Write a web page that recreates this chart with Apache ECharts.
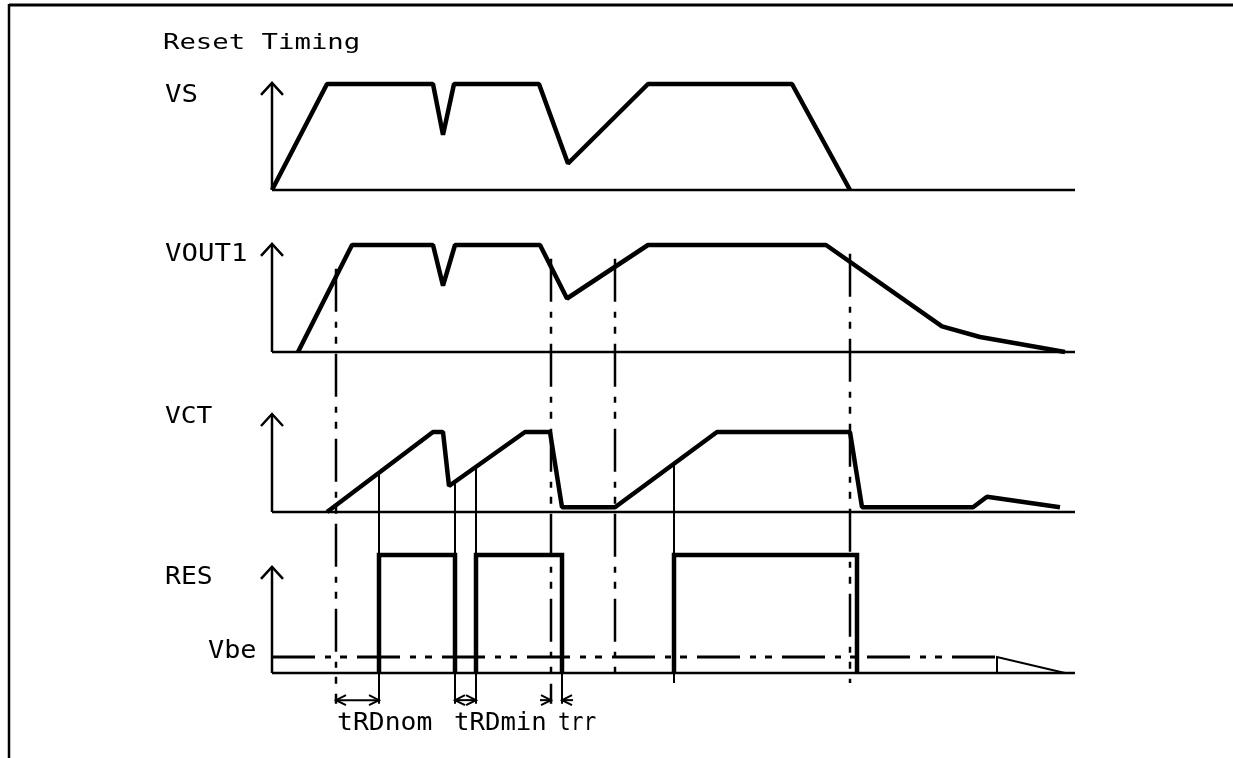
<!DOCTYPE html>
<html><head><meta charset="utf-8">
<script src="https://cdn.jsdelivr.net/npm/echarts@6/dist/echarts.min.js"></script>
<style>html,body{margin:0;padding:0;background:#fff}#c{width:1233px;height:758px}</style>
</head><body><div id="c"></div>
<script>
// ---- data: time in units (1 unit = 10 px on the time axis), levels in % of high level ----
const vsT    = [0, 5.5, 16.1, 17.1, 18.2, 26.7, 29.6, 37.6, 52.0, 57.8];
const vsV    = [0, 100, 100, 52, 100, 100, 25, 100, 100, 0];
const vout1T = [2.6, 8.0, 16.1, 17.1, 18.3, 26.8, 29.5, 37.6, 55.4, 67.0, 70.8, 74.5, 79.3];
const vout1V = [0, 100, 100, 62, 100, 100, 50, 100, 100, 24, 14, 8, 0];
const vctT   = [5.5, 16.1, 17.1, 17.7, 25.3, 27.8, 29.0, 34.3, 44.5, 57.8, 59.0, 70.1, 71.5, 78.8];
const vctV   = [0, 100, 100, 32.5, 100, 100, 6, 6, 100, 100, 6, 6, 19, 6];
const resRise = [10.7, 20.4, 40.2];
const resFall = [18.3, 29.0, 58.5];
const vbeLevel = 13.5;
const vbeEndT = [72.5, 79.3];
const timeEnd = 80.3;
const markerT = [6.4, 27.9, 34.3, 57.8];         // long dash-dot event markers
const dimNames = ['tRDnom', 'tRDmin', 'trr'];
const dimFrom  = [6.4, 18.3, 27.9];
const dimTo    = [10.7, 20.4, 29.0];
const signalNames = ['VS', 'VOUT1', 'VCT', 'RES'];

// ---- layout (pixel units on the y axis) ----
const L = {
  VS:    {base: 190, k: 1.06, top: 101},
  VOUT1: {base: 352, k: 1.07, top: 101},
  VCT:   {base: 512, k: 0.80, top: 122.5},
  RES:   {base: 673, k: 1.18, top: 90}
};
const Y = (p, v) => L[p].base - v * L[p].k;
const DASH = [43, 10, 6, 9, 7, 10];

function interp(ts, vs, t) {
  for (let i = 0; i < ts.length - 1; i++) {
    if (t >= ts[i] && t <= ts[i + 1]) {
      return vs[i] + (vs[i + 1] - vs[i]) * (t - ts[i]) / (ts[i + 1] - ts[i]);
    }
  }
  return 0;
}
function seg(points, width, dash, join) {
  return {
    type: 'line', data: points, showSymbol: false, symbol: 'none', silent: true,
    clip: false, animation: false, z: 2,
    lineStyle: {color: '#000', width: width, type: dash || 'solid', cap: 'butt', join: join || 'miter'}
  };
}
const series = [];
const heads = [];   // [t, y, dir]  dir 0 = up, 1 = right, -1 = left

// axes
signalNames.forEach(p => {
  series.push(seg([[0, L[p].base], [0, Y(p, L[p].top)]], 2.5));
  series.push(seg([[0, L[p].base], [timeEnd, L[p].base]], 2.5));
  heads.push([0, Y(p, L[p].top), 0]);
});

// signals
series.push(seg(vsT.map((t, i) => [t, Y('VS', vsV[i])]), 4.5, null, 'bevel'));
series.push(seg(vout1T.map((t, i) => [t, Y('VOUT1', vout1V[i])]), 4.5, null, 'bevel'));
series.push(seg(vctT.map((t, i) => [t, Y('VCT', vctV[i])]), 4.5, null, 'bevel'));
resRise.forEach((r, i) => {
  const f = resFall[i];
  series.push(seg([[r, Y('RES', 0)], [r, Y('RES', 100)], [f, Y('RES', 100)], [f, Y('RES', 0)]], 4.5));
});

// VCT threshold connectors to RES edges
const connT = [resRise[0], resFall[0], resRise[1], resRise[2]];
connT.forEach((t, i) => {
  const v = interp(vctT, vctV, t);
  series.push(seg([[t, Y('VCT', v)], [t, Y('VCT', i === 1 ? -14 : 0)]], 2));
  series.push(seg([[t, Y('VCT', 0)], [t, Y('RES', 100)]], 2, DASH));
});
// extensions below RES baseline
[resRise[0], resFall[0], resRise[1], resFall[1]].forEach(t => {
  series.push(seg([[t, Y('RES', 0)], [t, Y('RES', -26)]], 2));
});
series.push(seg([[resRise[2], Y('RES', 0)], [resRise[2], Y('RES', -8.5)]], 2));

// long dash-dot event markers
markerT.forEach((t, i) => {
  const v = interp(vout1T, vout1V, t);
  const end = i < 2 ? -26 : -8.5;
  series.push(seg([[t, Y('VOUT1', v) - 8], [t, Y('RES', end)]], 2.5, DASH));
});

// Vbe threshold
series.push(seg([[0, Y('RES', vbeLevel)], [vbeEndT[0], Y('RES', vbeLevel)]], 3, DASH));
series.push(seg([[vbeEndT[0], Y('RES', 0)], [vbeEndT[0], Y('RES', vbeLevel)], [vbeEndT[1], Y('RES', 0)]], 2));

// dimension arrows
const dimY = Y('RES', -23);
series.push(seg([[dimFrom[0], dimY], [dimTo[0], dimY]], 2));
heads.push([dimFrom[0], dimY, -1], [dimTo[0], dimY, 1]);
series.push(seg([[dimFrom[1], dimY], [dimTo[1], dimY]], 2));
heads.push([dimFrom[1], dimY, -1], [dimTo[1], dimY, 1]);
series.push(seg([[dimFrom[2] - 1.1, dimY], [dimFrom[2], dimY]], 2));
series.push(seg([[dimTo[2] + 1.1, dimY], [dimTo[2], dimY]], 2));
heads.push([dimFrom[2], dimY, 1], [dimTo[2], dimY, -1]);

series.push({
  type: 'custom', data: heads, silent: true, animation: false, clip: false, z: 3,
  renderItem: function (params, api) {
    const p = api.coord([api.value(0), api.value(1)]);
    const d = api.value(2);
    let pts, lw;
    if (d === 0) { pts = [[p[0] - 11, p[1] + 12], [p[0], p[1]], [p[0] + 11, p[1] + 12]]; lw = 2.5; }
    else { pts = [[p[0] - d * 10, p[1] - 5], [p[0], p[1]], [p[0] - d * 10, p[1] + 5]]; lw = 2; }
    return {type: 'polyline', shape: {points: pts}, style: {stroke: '#000', lineWidth: lw, fill: null}};
  }
});

const FONT = '"DejaVu Sans Mono", monospace';
function txt(s, x, y, size, sx) {
  return {type: 'text', x: x, y: y, scaleX: sx, silent: true, z: 5,
    style: {text: s, fontFamily: FONT, fontSize: size, fill: '#000', align: 'left', verticalAlign: 'middle'}};
}
const graphics = [
  {type: 'line', shape: {x1: 9, y1: 5, x2: 1233, y2: 5}, style: {stroke: '#000', lineWidth: 3}, silent: true},
  {type: 'line', shape: {x1: 9, y1: 4, x2: 9, y2: 758}, style: {stroke: '#000', lineWidth: 2.5}, silent: true},
  txt('Reset Timing', 163, 44, 21, 1.3),
  txt(signalNames[0], 165, 96, 24, 1.14),
  txt(signalNames[1], 165, 255, 24, 1.14),
  txt(signalNames[2], 165, 417, 23, 1.14),
  txt(signalNames[3], 165, 578, 24, 1.1),
  txt('Vbe', 208, 652, 24, 1.12),
  txt(dimNames[0], 337, 724, 24, 1.1),
  txt(dimNames[1], 454, 724, 24, 1.07),
  txt(dimNames[2], 558, 724, 24, 0.88)
];

const chart = echarts.init(document.getElementById('c'));
chart.setOption({
  animation: false,
  backgroundColor: '#fff',
  grid: {left: 0, right: 0, top: 0, bottom: 0},
  xAxis: {type: 'value', min: -27.2, max: 96.1, show: false},
  yAxis: {type: 'value', min: 0, max: 758, inverse: true, show: false},
  series: series,
  graphic: graphics
});
</script>
</body></html>
